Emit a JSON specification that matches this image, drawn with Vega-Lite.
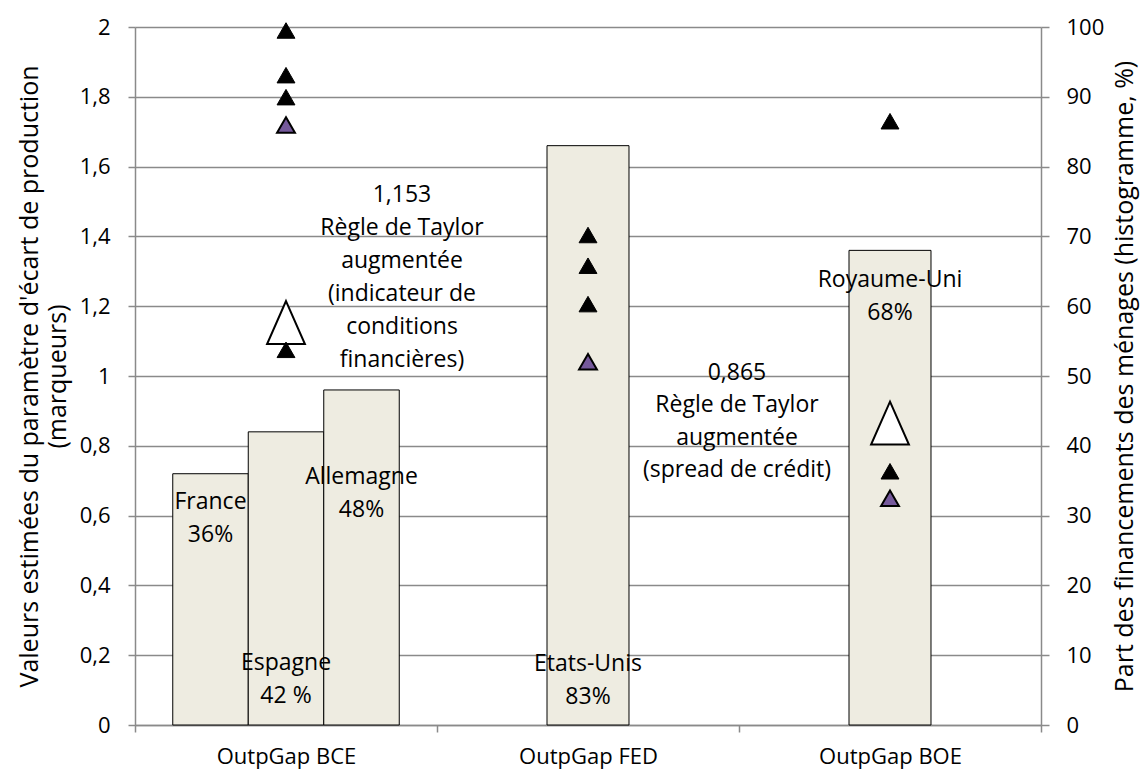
{
  "$schema": "https://vega.github.io/schema/vega-lite/v6.json",
  "width": 906,
  "height": 698,
  "autosize": {"type": "none"},
  "padding": {"left": 135, "top": 27, "right": 101, "bottom": 44},
  "background": "white",
  "config": {
    "font": "Open Sans",
    "view": {"stroke": null},
    "axis": {
      "labelFont": "Open Sans", "titleFont": "Open Sans",
      "labelColor": "#000", "titleColor": "#000", "titleFontWeight": "normal",
      "labelFontSize": 22, "titleFontSize": 25,
      "domainColor": "#8a8a8a", "tickColor": "#8a8a8a", "gridColor": "#8a8a8a",
      "domainWidth": 1.5, "tickWidth": 1.5, "gridWidth": 1.4
    }
  },
  "datasets": {
    "barsBCE": [
      {"cat": "OutpGap BCE", "pays": "France", "part": 36},
      {"cat": "OutpGap BCE", "pays": "Espagne", "part": 42},
      {"cat": "OutpGap BCE", "pays": "Allemagne", "part": 48}
    ],
    "barsOther": [
      {"cat": "OutpGap FED", "pays": "Etats-Unis", "part": 83},
      {"cat": "OutpGap BOE", "pays": "Royaume-Uni", "part": 68}
    ],
    "markers": [
      {"cat": "OutpGap BCE", "type": "blanc", "v": 1.153},
      {"cat": "OutpGap BCE", "type": "noir", "v": 1.99},
      {"cat": "OutpGap BCE", "type": "noir", "v": 1.862},
      {"cat": "OutpGap BCE", "type": "noir", "v": 1.799},
      {"cat": "OutpGap BCE", "type": "violet", "v": 1.719},
      {"cat": "OutpGap BCE", "type": "noir", "v": 1.075},
      {"cat": "OutpGap FED", "type": "noir", "v": 1.404},
      {"cat": "OutpGap FED", "type": "noir", "v": 1.316},
      {"cat": "OutpGap FED", "type": "noir", "v": 1.206},
      {"cat": "OutpGap FED", "type": "violet", "v": 1.041},
      {"cat": "OutpGap BOE", "type": "blanc", "v": 0.865},
      {"cat": "OutpGap BOE", "type": "noir", "v": 1.73},
      {"cat": "OutpGap BOE", "type": "noir", "v": 0.727},
      {"cat": "OutpGap BOE", "type": "violet", "v": 0.65}
    ],
    "labelsBCE": [
      {"cat": "OutpGap BCE", "pays": "France", "v": 0.640, "txt": "France\n36%"},
      {"cat": "OutpGap BCE", "pays": "Espagne", "v": 0.178, "txt": "Espagne\n42 %"},
      {"cat": "OutpGap BCE", "pays": "Allemagne", "v": 0.711, "txt": "Allemagne\n48%"}
    ],
    "labelsOther": [
      {"cat": "OutpGap FED", "v": 0.176, "txt": "Etats-Unis\n83%"},
      {"cat": "OutpGap BOE", "v": 1.276, "txt": "Royaume-Uni\n68%"}
    ],
    "taylor1": [
      {"cat": "OutpGap BCE", "v": 1.519, "txt": "1,153\nRègle de Taylor\naugmentée\n(indicateur de\nconditions\nfinancières)"}
    ],
    "taylor2": [
      {"cat": "OutpGap FED", "v": 1.009, "txt": "0,865\nRègle de Taylor\naugmentée\n(spread de crédit)"}
    ]
  },
  "encoding": {
    "x": {
      "field": "cat", "type": "nominal",
      "scale": {"domain": ["OutpGap BCE", "OutpGap FED", "OutpGap BOE"], "paddingInner": 0, "paddingOuter": 0},
      "axis": {"title": null, "orient": "bottom", "labelAngle": 0, "tickBand": "extent", "tickSize": 7, "labelPadding": 14, "grid": false}
    }
  },
  "layer": [
    {
      "encoding": {
        "y": {
          "field": "part", "type": "quantitative",
          "scale": {"domain": [0, 100]},
          "axis": {
            "orient": "right", "values": [0, 10, 20, 30, 40, 50, 60, 70, 80, 90, 100],
            "grid": false, "tickSize": 8, "labelPadding": 17,
            "title": "Part des financements des ménages (histogramme, %)",
            "titleAngle": -90, "titleBaseline": "top", "titlePadding": 9
          }
        }
      },
      "layer": [
        {
          "data": {"name": "barsBCE"},
          "mark": {"type": "bar", "fill": "#EEECE1", "stroke": "#000", "strokeWidth": 1},
          "encoding": {
            "xOffset": {"field": "pays", "type": "nominal", "scale": {"domain": ["France", "Espagne", "Allemagne"], "paddingInner": 0, "paddingOuter": 0.5}}
          }
        },
        {
          "data": {"name": "barsOther"},
          "mark": {"type": "bar", "width": {"band": 0.2715}, "fill": "#EEECE1", "stroke": "#000", "strokeWidth": 1}
        }
      ]
    },
    {
      "encoding": {
        "y": {
          "field": "v", "type": "quantitative",
          "scale": {"domain": [0, 2]},
          "axis": {
            "orient": "left", "values": [0, 0.2, 0.4, 0.6, 0.8, 1, 1.2, 1.4, 1.6, 1.8, 2],
            "grid": true, "tickSize": 7, "labelPadding": 18,
            "labelExpr": "replace(format(datum.value, '.1~f'), '.', ',')",
            "title": ["Valeurs estimées du paramètre d'écart de production", "(marqueurs)"],
            "titleLineHeight": 28, "titlePadding": 9
          }
        }
      },
      "layer": [
        {
          "data": {"name": "markers"},
          "transform": [{"filter": "datum.type === 'blanc'"}],
          "mark": {"type": "point", "shape": "M0,-1L0.88,1L-0.88,1Z", "size": 1849, "filled": true, "fill": "#ffffff", "stroke": "#000", "strokeWidth": 2, "opacity": 1}
        },
        {
          "data": {"name": "markers"},
          "transform": [{"filter": "datum.type === 'noir'"}],
          "mark": {"type": "point", "shape": "triangle-up", "size": 320, "filled": true, "fill": "#000000", "stroke": "#000", "strokeWidth": 1, "opacity": 1}
        },
        {
          "data": {"name": "markers"},
          "transform": [{"filter": "datum.type === 'violet'"}],
          "mark": {"type": "point", "shape": "triangle-up", "size": 320, "filled": true, "fill": "#75599B", "stroke": "#000", "strokeWidth": 2, "opacity": 1}
        },
        {
          "data": {"name": "labelsBCE"},
          "mark": {"type": "text", "fontSize": 23, "lineBreak": "\n", "lineHeight": 33, "align": "center", "baseline": "middle", "color": "#000"},
          "encoding": {
            "xOffset": {"field": "pays", "type": "nominal", "scale": {"domain": ["France", "Espagne", "Allemagne"], "paddingInner": 0, "paddingOuter": 0.5}},
            "text": {"field": "txt"}
          }
        },
        {
          "data": {"name": "labelsOther"},
          "mark": {"type": "text", "fontSize": 23, "lineBreak": "\n", "lineHeight": 33, "align": "center", "baseline": "middle", "color": "#000"},
          "encoding": {"text": {"field": "txt"}}
        },
        {
          "data": {"name": "taylor1"},
          "mark": {"type": "text", "fontSize": 23, "lineBreak": "\n", "lineHeight": 33, "align": "center", "baseline": "middle", "color": "#000", "dx": 116},
          "encoding": {"text": {"field": "txt"}}
        },
        {
          "data": {"name": "taylor2"},
          "mark": {"type": "text", "fontSize": 23, "lineBreak": "\n", "lineHeight": 32.5, "align": "center", "baseline": "middle", "color": "#000", "dx": 149},
          "encoding": {"text": {"field": "txt"}}
        }
      ]
    }
  ],
  "resolve": {"scale": {"y": "independent"}}
}
